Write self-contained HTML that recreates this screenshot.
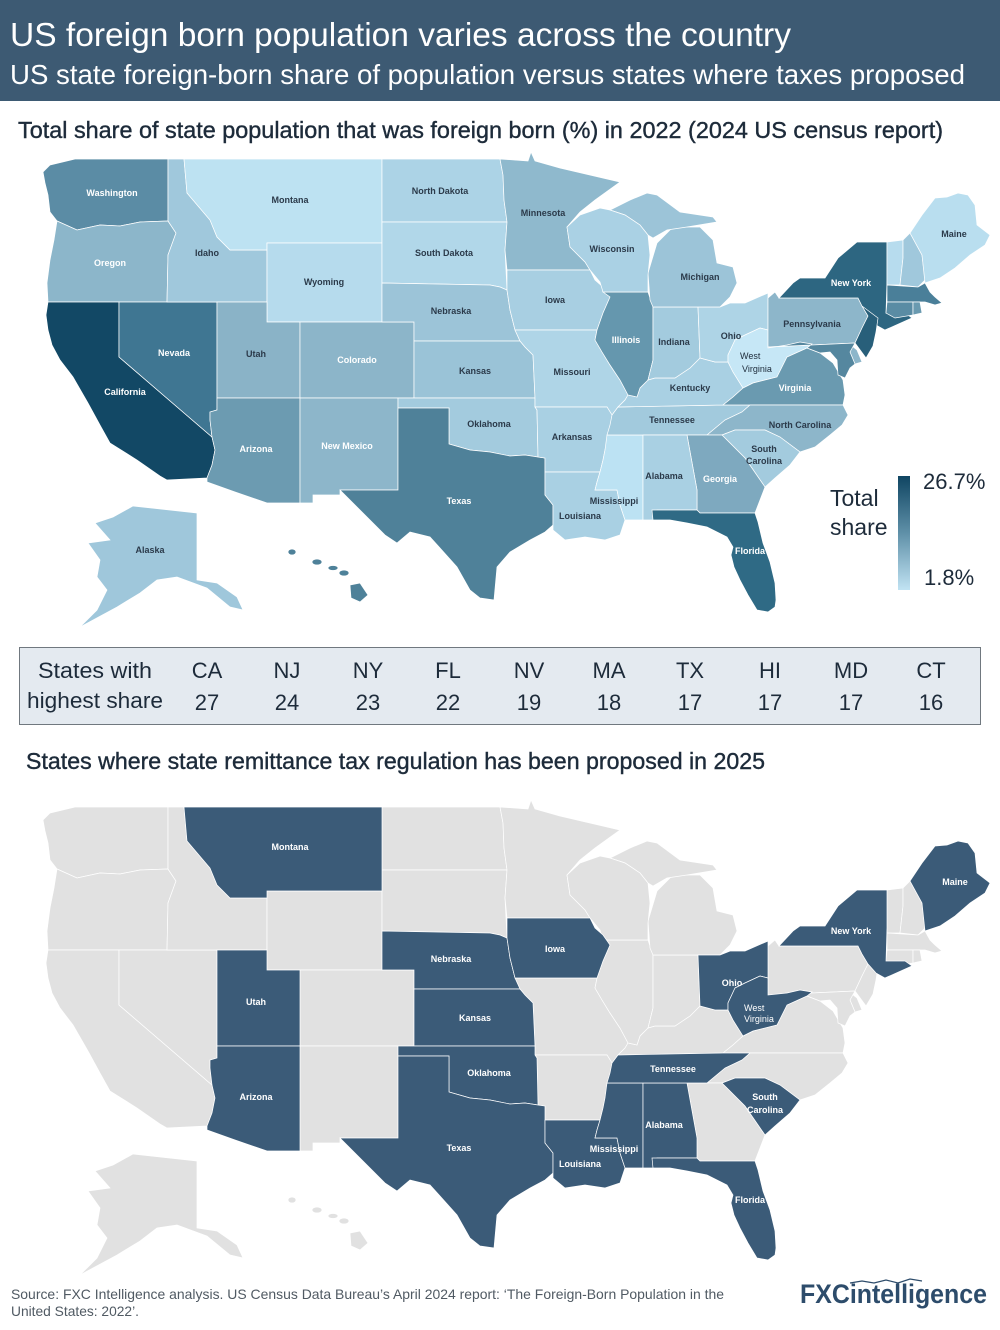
<!DOCTYPE html>
<html><head><meta charset="utf-8"><style>
html,body{margin:0;padding:0;background:#fff;}
svg{display:block;}
text{font-family:"Liberation Sans",sans-serif;}
.l{font-size:9px;font-weight:bold;text-anchor:middle;fill:#2b3a4a;}
.w{fill:#fff;}
</style></head><body>
<svg width="1000" height="1330" viewBox="0 0 1000 1330" xmlns="http://www.w3.org/2000/svg">
<defs>
<linearGradient id="lg" x1="0" y1="0" x2="0" y2="1"><stop offset="0" stop-color="#0f4562"/><stop offset="0.5" stop-color="#5f90a8"/><stop offset="1" stop-color="#c1e3f3"/></linearGradient>
<g id="WA"><path d="M43,172 L50,165 L75,159 L168,159 L168,221 L140,222 L120,226 L100,225 L77,230 L57,221 L50,212 L48,195 L45,183 Z"/></g>
<g id="OR"><path d="M57,221 L77,230 L100,225 L120,226 L140,222 L168,221 L176,233 L168,255 L167,302 L48,302 L47,283 L50,260 L54,240 Z"/></g>
<g id="CA"><path d="M48,302 L119,302 L119,357 L212,437 L215,450 L212,465 L207,478 L167,480 L160,476 L137,460 L110,443 L100,425 L88,403 L73,377 L60,360 L52,345 L48,330 L46,315 Z"/></g>
<g id="NV"><path d="M119,302 L217,302 L217,410 L210,412 L210,420 L212,437 L119,357 Z"/></g>
<g id="ID"><path d="M168,159 L184,159 L187,193 L210,220 L217,237 L230,250 L267,250 L267,302 L167,302 L168,255 L176,233 L168,221 Z"/></g>
<g id="MT"><path d="M184,159 L382,159 L382,243 L267,243 L267,250 L230,250 L217,237 L210,220 L187,193 Z"/></g>
<g id="WY"><path d="M267,243 L382,243 L382,322 L267,322 Z"/></g>
<g id="UT"><path d="M217,302 L267,302 L267,322 L300,322 L300,398 L217,398 Z"/></g>
<g id="CO"><path d="M300,322 L414,322 L414,398 L300,398 Z"/></g>
<g id="AZ"><path d="M217,398 L300,398 L300,503 L267,503 L235,492 L207,482 L207,478 L212,465 L215,450 L212,437 L210,420 L210,412 L217,410 Z"/></g>
<g id="NM"><path d="M300,398 L398,398 L398,490 L340,490 L340,495 L313,495 L313,503 L300,503 Z"/></g>
<g id="ND"><path d="M382,159 L500,159 L503,175 L504,200 L507,222 L382,222 Z"/></g>
<g id="SD"><path d="M382,222 L507,222 L505,250 L507,290 L500,287 L490,285 L382,283 Z"/></g>
<g id="NE"><path d="M382,283 L490,285 L500,287 L507,290 L510,310 L515,330 L520,341 L414,341 L414,322 L382,322 Z"/></g>
<g id="KS"><path d="M414,341 L520,341 L525,347 L533,355 L535,398 L414,398 Z"/></g>
<g id="OK"><path d="M398,398 L535,398 L535,407 L537,410 L538,457 L525,455 L510,456 L490,452 L470,450 L449,444 L449,408 L398,408 Z"/></g>
<g id="TX"><path d="M398,408 L449,408 L449,444 L470,450 L490,452 L510,456 L525,455 L538,457 L545,458 L545,495 L553,505 L553,525 L545,532 L530,540 L510,552 L497,567 L494,600 L480,598 L470,590 L457,567 L440,548 L430,537 L410,532 L397,543 L385,535 L370,520 L355,505 L340,490 L398,490 Z"/></g>
<g id="MN"><path d="M500,159 L528,161 L531,152 L535,161 L560,168 L590,175 L620,182 L595,200 L580,212 L567,227 L570,247 L585,262 L590,270 L507,270 L505,250 L507,222 L504,200 L503,175 Z"/></g>
<g id="IA"><path d="M507,270 L590,270 L595,280 L603,287 L610,297 L603,313 L597,330 L515,330 L510,310 L507,290 Z"/></g>
<g id="MO"><path d="M515,330 L597,330 L595,340 L602,352 L610,365 L620,380 L628,395 L625,400 L618,407 L612,415 L607,407 L535,407 L535,398 L533,355 L525,347 L520,341 Z"/></g>
<g id="AR"><path d="M535,407 L607,407 L612,415 L610,430 L605,450 L603,460 L600,472 L545,472 L545,458 L538,457 L537,410 Z"/></g>
<g id="LA"><path d="M545,472 L600,472 L597,482 L595,490 L617,490 L620,505 L625,520 L620,535 L605,540 L585,537 L565,540 L553,530 L553,505 L545,495 Z"/></g>
<g id="MS"><path d="M607,435 L643,435 L643,520 L625,520 L620,505 L617,490 L595,490 L597,482 L600,472 L603,460 L605,450 Z"/></g>
<g id="TN"><path d="M618,407 L723,405 L750,405 L742,412 L725,420 L707,435 L607,435 L610,425 L612,415 Z"/></g>
<g id="KY"><path d="M618,407 L625,400 L628,395 L637,397 L640,388 L648,380 L655,378 L675,378 L690,368 L700,358 L715,362 L728,362 L733,372 L743,388 L733,397 L723,405 Z"/></g>
<g id="IL"><path d="M603,292 L648,292 L653,307 L653,360 L648,380 L640,388 L637,397 L628,395 L620,380 L610,365 L602,352 L595,340 L597,330 L603,313 L610,297 Z"/></g>
<g id="IN"><path d="M653,307 L698,307 L700,358 L690,368 L675,378 L655,378 L648,380 L653,360 Z"/></g>
<g id="OH"><path d="M698,307 L720,307 L730,303 L745,303 L768,293 L768,330 L760,328 L745,335 L735,340 L728,355 L728,362 L715,362 L700,358 Z"/></g>
<g id="WV"><path d="M735,340 L745,335 L760,328 L768,330 L768,347 L787,345 L800,342 L812,344 L807,348 L787,357 L777,377 L753,383 L743,388 L733,372 L728,362 L728,355 Z"/></g>
<g id="VA"><path d="M723,405 L733,397 L743,388 L753,383 L777,377 L787,357 L807,348 L820,353 L833,363 L843,380 L845,395 L843,405 L750,405 Z"/></g>
<g id="NC"><path d="M707,435 L725,420 L742,412 L750,405 L843,405 L848,415 L842,425 L830,435 L815,447 L800,452 L780,437 L765,430 L735,430 L722,435 Z"/></g>
<g id="SC"><path d="M722,435 L735,430 L765,430 L780,437 L800,452 L790,465 L775,478 L765,487 L745,458 Z"/></g>
<g id="GA"><path d="M687,435 L722,435 L745,458 L765,487 L760,500 L755,513 L700,513 L697,510 L697,490 Z"/></g>
<g id="AL"><path d="M643,435 L687,435 L697,490 L697,510 L657,510 L658,520 L643,520 Z"/></g>
<g id="FL"><path d="M652,510 L697,510 L700,513 L755,513 L758,522 L763,543 L770,562 L775,583 L776,600 L775,607 L768,612 L757,610 L748,595 L740,580 L734,567 L731,555 L733,547 L727,537 L707,527 L687,523 L670,520 L653,520 Z"/></g>
<g id="MI"><path d="M650,300 L648,273 L657,243 L673,227 L700,227 L713,240 L717,263 L733,267 L737,283 L730,297 L720,307 L653,307 Z"/><path d="M610,210 L630,200 L647,193 L657,195 L680,212 L713,217 L717,222 L687,227 L667,230 L653,238 L648,235 L640,225 L625,215 Z"/></g>
<g id="WI"><path d="M567,227 L580,215 L600,208 L610,210 L625,215 L640,225 L648,235 L650,255 L648,275 L648,292 L603,292 L600,282 L590,270 L585,262 L570,247 Z"/></g>
<g id="PA"><path d="M768,298 L775,292 L779,298 L858,298 L862,306 L868,316 L862,328 L855,343 L768,347 Z"/></g>
<g id="NY"><path d="M779,298 L793,283 L800,278 L825,278 L838,258 L857,242 L887,242 L887,280 L886,313 L905,313 L912,318 L885,330 L876,325 L868,316 L862,306 L858,298 Z"/></g>
<g id="NJ"><path d="M862,306 L878,318 L876,332 L873,346 L866,358 L855,343 L862,328 L868,316 Z"/></g>
<g id="DE"><path d="M852,346 L857,350 L862,362 L855,364 L850,352 Z"/></g>
<g id="MD"><path d="M768,347 L855,343 L850,352 L855,364 L850,368 L845,378 L838,375 L837,360 L830,352 L820,353 L807,348 L812,344 L800,342 L787,345 L768,348 Z"/></g>
<g id="VT"><path d="M887,242 L903,240 L903,258 L900,285 L887,285 Z"/></g>
<g id="NH"><path d="M903,240 L910,233 L922,255 L925,280 L918,287 L900,285 L903,258 Z"/></g>
<g id="ME"><path d="M910,233 L922,215 L935,198 L947,197 L958,193 L968,195 L975,205 L977,225 L990,235 L985,245 L970,255 L955,268 L940,278 L925,283 L922,255 Z"/></g>
<g id="MA"><path d="M887,285 L918,287 L925,283 L930,292 L935,297 L942,303 L935,305 L925,302 L887,302 Z"/></g>
<g id="CT"><path d="M887,302 L913,302 L913,315 L895,318 L886,313 Z"/></g>
<g id="RI"><path d="M913,302 L920,302 L922,313 L913,315 Z"/></g>
<g id="AK"><path d="M133,506 L197,513 L197,580 L217,583 L237,597 L243,610 L230,607 L207,588 L177,577 L157,580 L140,593 L117,607 L80,627 L97,610 L107,590 L97,577 L100,560 L88,543 L110,540 L95,523 L113,517 Z"/></g>
<g id="HI"><ellipse cx="292" cy="552" rx="4" ry="3"/><ellipse cx="317" cy="562" rx="5" ry="3"/><ellipse cx="333" cy="568" rx="5" ry="2.5"/><ellipse cx="344" cy="573" rx="5" ry="3"/><path d="M350,585 L360,583 L368,595 L360,602 L351,598 Z"/></g>
</defs>

<!-- Header -->
<rect x="0" y="0" width="1000" height="101" fill="#3d5a73"/>
<text x="10" y="46" font-size="33" fill="#fff" textLength="781" lengthAdjust="spacingAndGlyphs">US foreign born population varies across the country</text>
<text x="10" y="84" font-size="28" fill="#fff" textLength="955" lengthAdjust="spacingAndGlyphs">US state foreign-born share of population versus states where taxes proposed</text>

<text x="18" y="138" font-size="23" fill="#1d2b3a" stroke="#1d2b3a" stroke-width="0.4" textLength="925" lengthAdjust="spacingAndGlyphs">Total share of state population that was foreign born (%) in 2022 (2024 US census report)</text>

<!-- Map 1 -->
<g stroke="#fff" stroke-width="0.7">
<use href="#WA" fill="#5b8ca5"/><use href="#OR" fill="#8cb6ca"/><use href="#CA" fill="#124865"/><use href="#NV" fill="#3f7692"/>
<use href="#ID" fill="#a0c8dc"/><use href="#MT" fill="#bde2f2"/><use href="#WY" fill="#b6dbed"/><use href="#UT" fill="#8ab3c7"/>
<use href="#CO" fill="#8cb5c9"/><use href="#AZ" fill="#6c9bb1"/><use href="#NM" fill="#8db6ca"/><use href="#ND" fill="#acd3e6"/>
<use href="#SD" fill="#b1d7e9"/><use href="#NE" fill="#9cc4d8"/><use href="#KS" fill="#9ac3d7"/><use href="#OK" fill="#a3cbde"/>
<use href="#TX" fill="#4f8199"/><use href="#MN" fill="#8fb9cd"/><use href="#IA" fill="#a8cfe2"/><use href="#MO" fill="#afd5e7"/>
<use href="#AR" fill="#a9d0e3"/><use href="#LA" fill="#a9d0e3"/><use href="#MS" fill="#bce2f3"/><use href="#TN" fill="#a2cadd"/>
<use href="#KY" fill="#a9d0e3"/><use href="#IL" fill="#6597ae"/><use href="#IN" fill="#a3cbde"/><use href="#OH" fill="#aed4e6"/>
<use href="#WV" fill="#c6e7f6"/><use href="#VA" fill="#6a9ab0"/><use href="#NC" fill="#8db6ca"/><use href="#SC" fill="#a3cbde"/>
<use href="#GA" fill="#7ea9bf"/><use href="#AL" fill="#a9d0e3"/><use href="#FL" fill="#2f6a85"/><use href="#MI" fill="#9cc4d8"/>
<use href="#WI" fill="#aad1e4"/><use href="#PA" fill="#8db6ca"/><use href="#NY" fill="#2d6681"/><use href="#NJ" fill="#285f7a"/>
<use href="#DE" fill="#8db6ca"/><use href="#MD" fill="#55879f"/><use href="#VT" fill="#b7dcee"/><use href="#NH" fill="#a0c8dc"/>
<use href="#ME" fill="#b9deef"/><use href="#MA" fill="#4a7f99"/><use href="#CT" fill="#5a8ca4"/><use href="#RI" fill="#6a9ab0"/>
<use href="#AK" fill="#9fc7db"/><use href="#HI" fill="#4e8199"/>
</g>
<g>
<text class="l w" x="112" y="196">Washington</text>
<text class="l w" x="110" y="266">Oregon</text>
<text class="l" x="207" y="256">Idaho</text>
<text class="l" x="290" y="203">Montana</text>
<text class="l" x="440" y="194">North Dakota</text>
<text class="l" x="444" y="256">South Dakota</text>
<text class="l" x="324" y="285">Wyoming</text>
<text class="l" x="451" y="314">Nebraska</text>
<text class="l" x="543" y="216">Minnesota</text>
<text class="l" x="612" y="252">Wisconsin</text>
<text class="l" x="700" y="280">Michigan</text>
<text class="l" x="555" y="303">Iowa</text>
<text class="l w" x="626" y="343">Illinois</text>
<text class="l" x="674" y="345">Indiana</text>
<text class="l" x="731" y="339">Ohio</text>
<text x="740" y="359" font-size="9" fill="#1d2b3a">West</text>
<text x="742" y="372" font-size="9" fill="#1d2b3a">Virginia</text>
<text class="l" x="812" y="327">Pennsylvania</text>
<text class="l w" x="851" y="286">New York</text>
<text class="l" x="954" y="237">Maine</text>
<text class="l w" x="795" y="391">Virginia</text>
<text class="l" x="690" y="391">Kentucky</text>
<text class="l" x="672" y="423">Tennessee</text>
<text class="l" x="800" y="428">North Carolina</text>
<text class="l" x="764" y="452">South</text>
<text class="l" x="764" y="464">Carolina</text>
<text class="l w" x="720" y="482">Georgia</text>
<text class="l" x="664" y="479">Alabama</text>
<text class="l" x="614" y="504">Mississippi</text>
<text class="l" x="580" y="519">Louisiana</text>
<text class="l" x="572" y="440">Arkansas</text>
<text class="l" x="489" y="427">Oklahoma</text>
<text class="l w" x="459" y="504">Texas</text>
<text class="l" x="572" y="375">Missouri</text>
<text class="l" x="475" y="374">Kansas</text>
<text class="l w" x="357" y="363">Colorado</text>
<text class="l" x="256" y="357">Utah</text>
<text class="l w" x="174" y="356">Nevada</text>
<text class="l w" x="125" y="395">California</text>
<text class="l w" x="256" y="452">Arizona</text>
<text class="l w" x="347" y="449">New Mexico</text>
<text class="l" x="150" y="553">Alaska</text>
<text class="l w" x="750" y="554">Florida</text>
</g>

<!-- Legend -->
<text x="830" y="506" font-size="23" fill="#1d2b3a">Total</text>
<text x="830" y="535" font-size="23" fill="#1d2b3a">share</text>
<rect x="898" y="476" width="12" height="114" fill="url(#lg)"/>
<text x="923" y="489" font-size="22" fill="#1d2b3a">26.7%</text>
<text x="924" y="585" font-size="22" fill="#1d2b3a">1.8%</text>

<!-- Table -->
<rect x="19.5" y="647.5" width="961" height="77" fill="#e4eaf0" stroke="#70787f" stroke-width="1"/>
<g font-size="22" fill="#1d2b3a" text-anchor="middle">
<text x="95" y="678" textLength="114" lengthAdjust="spacingAndGlyphs">States with</text>
<text x="95" y="708" textLength="136" lengthAdjust="spacingAndGlyphs">highest share</text>
<text x="207" y="678">CA</text><text x="207" y="710">27</text>
<text x="287" y="678">NJ</text><text x="287" y="710">24</text>
<text x="368" y="678">NY</text><text x="368" y="710">23</text>
<text x="448" y="678">FL</text><text x="448" y="710">22</text>
<text x="529" y="678">NV</text><text x="529" y="710">19</text>
<text x="609" y="678">MA</text><text x="609" y="710">18</text>
<text x="690" y="678">TX</text><text x="690" y="710">17</text>
<text x="770" y="678">HI</text><text x="770" y="710">17</text>
<text x="851" y="678">MD</text><text x="851" y="710">17</text>
<text x="931" y="678">CT</text><text x="931" y="710">16</text>
</g>

<text x="26" y="769" font-size="23" fill="#1d2b3a" stroke="#1d2b3a" stroke-width="0.4" textLength="739" lengthAdjust="spacingAndGlyphs">States where state remittance tax regulation has been proposed in 2025</text>

<!-- Map 2 -->
<g transform="translate(0,648)" stroke="#fff" stroke-width="0.7" fill="#e1e1e1">
<use href="#WA"/><use href="#OR"/><use href="#CA"/><use href="#NV"/><use href="#ID"/><use href="#WY"/>
<use href="#CO"/><use href="#NM"/><use href="#ND"/><use href="#SD"/><use href="#MN"/><use href="#MO"/>
<use href="#AR"/><use href="#KY"/><use href="#IL"/><use href="#IN"/><use href="#VA"/><use href="#NC"/>
<use href="#GA"/><use href="#MI"/><use href="#WI"/><use href="#PA"/><use href="#NJ"/><use href="#DE"/>
<use href="#MD"/><use href="#VT"/><use href="#NH"/><use href="#MA"/><use href="#CT"/><use href="#RI"/>
<use href="#AK"/><use href="#HI"/>
<g fill="#3b5b78">
<use href="#MT"/><use href="#UT"/><use href="#AZ"/><use href="#NE"/><use href="#KS"/><use href="#OK"/>
<use href="#TX"/><use href="#IA"/><use href="#LA"/><use href="#MS"/><use href="#AL"/><use href="#TN"/>
<use href="#FL"/><use href="#SC"/><use href="#OH"/><use href="#WV"/><use href="#NY"/><use href="#ME"/>
</g>
</g>
<g>
<text class="l w" x="290" y="850">Montana</text>
<text class="l w" x="451" y="962">Nebraska</text>
<text class="l w" x="555" y="952">Iowa</text>
<text class="l w" x="256" y="1005">Utah</text>
<text class="l w" x="475" y="1021">Kansas</text>
<text class="l w" x="489" y="1076">Oklahoma</text>
<text class="l w" x="256" y="1100">Arizona</text>
<text class="l w" x="459" y="1151">Texas</text>
<text class="l w" x="580" y="1167">Louisiana</text>
<text class="l w" x="614" y="1152">Mississippi</text>
<text class="l w" x="664" y="1128">Alabama</text>
<text class="l w" x="673" y="1072">Tennessee</text>
<text class="l w" x="765" y="1100">South</text>
<text class="l w" x="765" y="1113">Carolina</text>
<text class="l w" x="750" y="1203">Florida</text>
<text class="l w" x="732" y="986">Ohio</text>
<text x="744" y="1011" font-size="9" fill="#fff">West</text>
<text x="744" y="1022" font-size="9" fill="#fff">Virginia</text>
<text class="l w" x="851" y="934">New York</text>
<text class="l w" x="955" y="885">Maine</text>
</g>

<!-- Footer -->
<text x="11" y="1299" font-size="14" fill="#505a63" textLength="713" lengthAdjust="spacingAndGlyphs">Source: FXC Intelligence analysis. US Census Data Bureau’s April 2024 report: ‘The Foreign-Born Population in the</text>
<text x="11" y="1316" font-size="14" fill="#505a63" textLength="128" lengthAdjust="spacingAndGlyphs">United States: 2022’.</text>
<text x="800" y="1303" font-size="27" font-weight="bold" fill="#2d4c6b" textLength="187" lengthAdjust="spacingAndGlyphs">FXCintelligence</text>
<polyline points="850,1283 862,1281 874,1283 886,1280 898,1283 910,1279 922,1281" fill="none" stroke="#2d4c6b" stroke-width="1.2"/>
</svg>
</body></html>
